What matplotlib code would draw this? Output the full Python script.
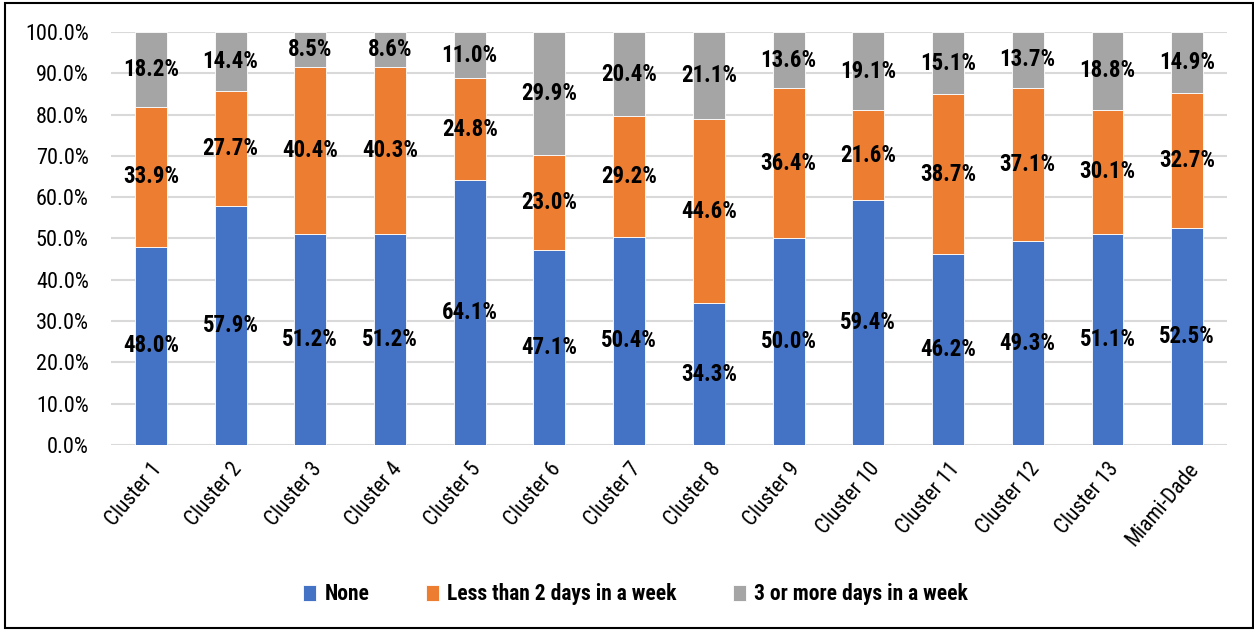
import numpy as np
import matplotlib.pyplot as plt
from matplotlib.patches import Rectangle

categories = ['Cluster 1', 'Cluster 2', 'Cluster 3', 'Cluster 4', 'Cluster 5',
              'Cluster 6', 'Cluster 7', 'Cluster 8', 'Cluster 9', 'Cluster 10',
              'Cluster 11', 'Cluster 12', 'Cluster 13', 'Miami-Dade']
none_pct = [48.0, 57.9, 51.2, 51.2, 64.1, 47.1, 50.4, 34.3, 50.0, 59.4, 46.2, 49.3, 51.1, 52.5]
less2_pct = [33.9, 27.7, 40.4, 40.3, 24.8, 23.0, 29.2, 44.6, 36.4, 21.6, 38.7, 37.1, 30.1, 32.7]
more3_pct = [18.2, 14.4, 8.5, 8.6, 11.0, 29.9, 20.4, 21.1, 13.6, 19.1, 15.1, 13.7, 18.8, 14.9]
series_names = ['None', 'Less than 2 days in a week', '3 or more days in a week']

font = ['Roboto Condensed', 'DejaVu Sans']
plt.rcParams['font.family'] = font

fig = plt.figure(figsize=(12.54, 6.31), dpi=100)
ax = fig.add_axes([0.0885, 0.2948, 0.89, 0.6545])

# black frame around the whole picture
fig.patches.append(Rectangle((0.004, 0.004), 0.995, 0.991, transform=fig.transFigure,
                             fill=False, edgecolor='black', linewidth=1.5))

x = np.arange(len(categories))
colors = ['#4472C4', '#ED7D31', '#A5A5A5']
bottom = np.zeros(len(categories))
for vals, name, c in zip([none_pct, less2_pct, more3_pct], series_names, colors):
    vals = np.array(vals)
    ax.bar(x, vals, 0.4, bottom=bottom, color=c, label=name,
           edgecolor='white', linewidth=0.6, zorder=3)
    for xi, b, v in zip(x, bottom, vals):
        ax.text(xi, b + v / 2, f'{v:.1f}%', ha='center', va='center',
                fontsize=16.5, fontweight='bold', color='black', zorder=4)
    bottom += vals

ax.set_xlim(-0.5, len(categories) - 0.5)
ax.set_ylim(0, 100)
ax.set_yticks(np.arange(0, 101, 10))
ax.set_yticklabels([f'{v:.1f}%' for v in np.arange(0, 101, 10)], fontsize=16)
ax.set_xticks(x)
ax.set_xticklabels(categories, rotation=50, ha='right', rotation_mode='anchor', fontsize=15.5)
ax.tick_params(axis='y', length=0, pad=16)
ax.tick_params(axis='x', length=0, pad=10)
ax.grid(axis='y', color='#D9D9D9', linewidth=1.5, zorder=0)
for s in ax.spines.values():
    s.set_visible(False)

fig.legend(loc='center', bbox_to_anchor=(0.507, 0.058), ncol=3, frameon=False,
           prop={'family': font, 'weight': 'bold', 'size': 15.5},
           handlelength=0.6, handleheight=0.8, handletextpad=0.4, columnspacing=2.6)

fig.savefig('out.png', dpi=100)
